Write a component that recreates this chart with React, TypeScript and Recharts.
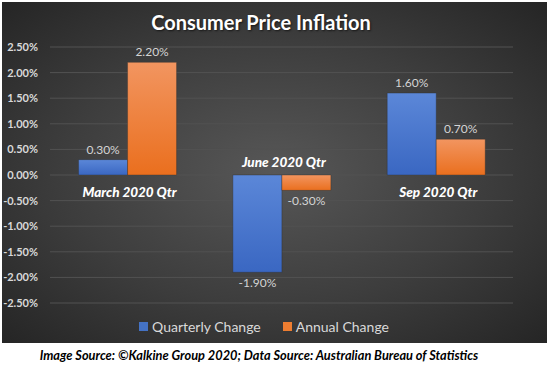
import * as React from "react"
import { Bar, BarChart, CartesianGrid, LabelList, XAxis, YAxis } from "recharts"

// chart values, in percent
const quarters = ["March 2020 Qtr", "June 2020 Qtr", "Sep 2020 Qtr"]
const quarterlyChange = [0.3, -1.9, 1.6]
const annualChange = [2.2, -0.3, 0.7]
const yTicks = [-2.5, -2, -1.5, -1, -0.5, 0, 0.5, 1, 1.5, 2, 2.5]

const data = quarters.map((name, i) => ({
  name,
  quarterly: quarterlyChange[i],
  annual: annualChange[i],
}))

const FONT = "Lato, 'Open Sans', sans-serif"
const pct = (v: number) => `${v.toFixed(2)}%`

// category name drawn next to the zero line, on the side away from the bars
const QuarterLabel = (props: any) => {
  const vb = props.viewBox || props
  const { x, y, width, height } = vb
  const value = Number(props.value)
  const zeroY = value < 0 && height > 0 ? y : y + height
  const cx = x + width + 2
  const below = value >= 0
  return (
    <text
      x={cx}
      y={below ? zeroY + 22 : zeroY - 8}
      textAnchor="middle"
      fill="#ffffff"
      fontFamily={FONT}
      fontWeight={900}
      fontStyle="italic"
      fontSize={13.5}
    >
      {quarters[props.index]}
    </text>
  )
}

const valueLabel = {
  position: "top" as const,
  offset: 6,
  fill: "#d4d4d4",
  fontSize: 12,
  fontFamily: FONT,
  formatter: (v: any) => pct(Number(v)),
}

export default function App() {
  return (
    <div style={{ position: "absolute", left: 0, top: 0, width: 550, height: 374, background: "#fff" }}>
      <div
        style={{
          position: "absolute",
          left: 2,
          top: 2,
          width: 545,
          height: 341,
          background: "radial-gradient(ellipse at 50% 50%, #575757 0%, #3d3d3d 55%, #252525 100%)",
        }}
      >
        <div
          style={{
            position: "absolute",
            top: 8,
            left: 0,
            width: 518,
            textAlign: "center",
            color: "#fff",
            fontFamily: FONT,
            fontWeight: "bold",
            fontSize: 20,
            textShadow: "1px 1px 2px rgba(0,0,0,0.6)",
          }}
        >
          Consumer Price Inflation
        </div>
        <BarChart
          width={545}
          height={341}
          data={data}
          margin={{ top: 45, right: 34, bottom: 40, left: 0 }}
          barCategoryGap="18.5%"
          barGap={0}
        >
          <defs>
            <linearGradient id="blueFill" x1="0" y1="0" x2="0" y2="1">
              <stop offset="0%" stopColor="#5b87d8" />
              <stop offset="100%" stopColor="#3a67c2" />
            </linearGradient>
            <linearGradient id="orangeFill" x1="0" y1="0" x2="0" y2="1">
              <stop offset="0%" stopColor="#f29560" />
              <stop offset="100%" stopColor="#ea6f1e" />
            </linearGradient>
          </defs>
          <CartesianGrid vertical={false} stroke="#525252" strokeWidth={1} />
          <XAxis dataKey="name" hide />
          <YAxis
            width={48}
            domain={[-2.5, 2.5]}
            ticks={yTicks}
            tickFormatter={pct}
            axisLine={false}
            tickLine={false}
            tickMargin={6}
            tick={{ fill: "#d9d9d9", fontSize: 11, fontWeight: "bold", fontFamily: FONT }}
          />
          <Bar dataKey="quarterly" fill="url(#blueFill)" stroke="#2a2a2a" strokeOpacity={0.35} isAnimationActive={false}>
            <LabelList {...valueLabel} dataKey="quarterly" />
            <LabelList dataKey="quarterly" content={QuarterLabel} />
          </Bar>
          <Bar dataKey="annual" fill="url(#orangeFill)" stroke="#2a2a2a" strokeOpacity={0.35} isAnimationActive={false}>
            <LabelList {...valueLabel} dataKey="annual" />
          </Bar>
        </BarChart>
        <div
          style={{
            position: "absolute",
            top: 316,
            left: 0,
            width: 524,
            display: "flex",
            justifyContent: "center",
            gap: 22,
            color: "#d9d9d9",
            fontFamily: FONT,
            fontSize: 14,
          }}
        >
          <span style={{ display: "flex", alignItems: "center", gap: 4 }}>
            <span style={{ width: 9, height: 9, background: "#4472c4", display: "inline-block" }} />
            Quarterly Change
          </span>
          <span style={{ display: "flex", alignItems: "center", gap: 4 }}>
            <span style={{ width: 9, height: 9, background: "#ed7d31", display: "inline-block" }} />
            Annual Change
          </span>
        </div>
      </div>
      <div
        style={{
          position: "absolute",
          top: 347,
          left: 0,
          width: 518,
          textAlign: "center",
          color: "#000",
          fontFamily: FONT,
          fontWeight: "bold",
          fontStyle: "italic",
          fontSize: 12.8,
        }}
      >
        Image Source: ©Kalkine Group 2020; Data Source: Australian Bureau of Statistics
      </div>
    </div>
  )
}
